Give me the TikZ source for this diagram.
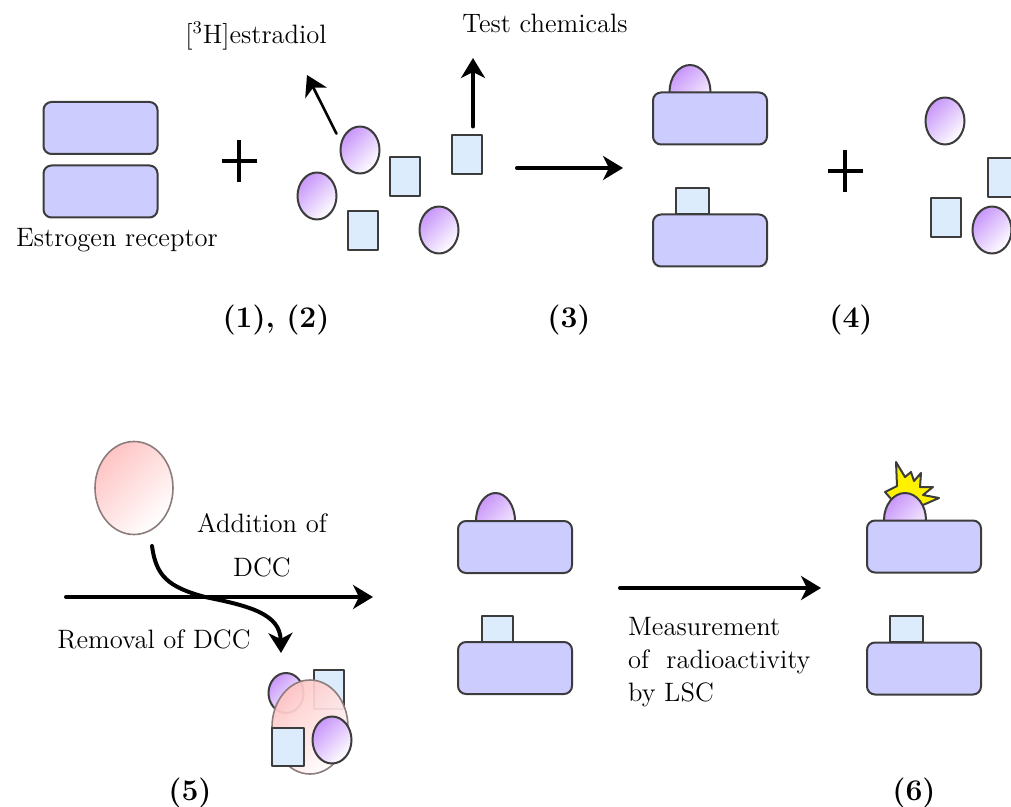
\documentclass[tikz,border=0pt]{standalone}
\usetikzlibrary{arrows.meta,shapes.geometric}
\definecolor{recep}{RGB}{204,204,255}
\definecolor{edge}{RGB}{60,60,60}
\definecolor{chemblue}{RGB}{220,236,252}
\definecolor{lig}{RGB}{200,150,250}
\definecolor{dcc}{RGB}{255,196,196}
\definecolor{dccedge}{RGB}{140,124,124}
\begin{document}
\begin{tikzpicture}[x=0.5pt,y=-0.5pt,>={Stealth[length=10pt,width=12pt,inset=3pt]},
    line join=round, line cap=round, font=\fontsize{13.3}{16}\selectfont,
    receptor/.style={draw=edge, line width=1pt, fill=recep, rounded corners=4pt,
        minimum width=57pt, minimum height=26pt, inner sep=0pt},
    ligand/.style={ellipse, draw=edge, line width=1pt, top color=lig, bottom color=white,
        shading angle=45, minimum width=19.5pt, minimum height=23.5pt, inner sep=0pt},
    halflig/.style={ligand, minimum width=20.5pt, minimum height=27pt},
    chembox/.style={draw=edge, line width=1pt, fill=chemblue, minimum width=15pt,
        minimum height=19.5pt, inner sep=0pt},
    dccball/.style={ellipse, draw=dccedge, line width=0.8pt, top color=dcc, bottom color=white,
        shading angle=45, minimum width=39pt, minimum height=46.5pt, inner sep=0pt},
    thickline/.style={line width=2pt},
    plusline/.style={line width=2.4pt, line cap=butt},
    numlab/.style={font=\fontsize{15}{17}\selectfont\bfseries}]
    \useasboundingbox (0,0) rectangle (1011,807);
    \clip (0,0) rectangle (1011,807);
    % (1), (2): receptor, [3H]estradiol and test chemicals
    \node[receptor] (ra) at (100.5,128) {};
    \node[receptor] (rb) at (100.5,191.5) {};
    \node (er) at (117,240) {Estrogen receptor};
    \coordinate (pa) at (239,161);
    \draw[plusline] (pa) ++(-17.5,0) -- ++(35,0) (pa) ++(0,-21) -- ++(0,42);
    \node[ligand] (la) at (360,150) {};
    \node[ligand] (lb) at (317,196) {};
    \node[ligand] (lc) at (439,230) {};
    \node[chembox] (sa) at (405,177) {};
    \node[chembox] (sb) at (363,231) {};
    \node[chembox] (sc) at (467,155) {};
    \node (est) at (256,36) {[$^3$H]estradiol};
    \node (tc) at (545,23) {Test chemicals};
    \coordinate (estTip) at (307,75);
    \coordinate (tcTip) at (473,58);
    \draw[->, line width=1.3pt] ([shift={(-9,1)}]la.north west) -- (estTip);
    \draw[->, thickline] ([shift={(6,-8)}]sc.north) -- (tcTip);
    % (3): bound receptors
    \coordinate (a3s) at (517,168);
    \coordinate (a3e) at (623,168);
    \draw[->, thickline] (a3s) -- (a3e);
    \node[halflig] (h3) at (690,92) {};
    \node[receptor] (r3a) at (710,118.5) {};
    \node[chembox, minimum width=16.5pt, minimum height=13pt] (q3) at (692.5,201) {};
    \node[receptor] (r3b) at (710,240.5) {};
    % (4): free ligands
    \coordinate (pb) at (845,171);
    \draw[plusline] (pb) ++(-17.5,0) -- ++(35,0) (pb) ++(0,-21) -- ++(0,42);
    \node[ligand] (ld) at (945,121) {};
    \node[ligand] (le) at (992,230) {};
    \node[chembox] (sd) at (945.5,217.5) {};
    \node[chembox] (se) at (1003,177.5) {};
    \node[numlab] (n12) at (276,320) {(1), (2)};
    \node[numlab] (n3) at (569,320) {(3)};
    \node[numlab] (n4) at (851,320) {(4)};
    % (5): DCC in and out
    \node[dccball] (dc) at (134,488) {};
    \coordinate (a5s) at (66,597);
    \coordinate (a5e) at (373,597);
    \draw[->, thickline] (a5s) -- (a5e);
    \coordinate (rmS) at (152,546);
    \coordinate (rmE) at (281,653);
    \draw[->, thickline] (rmS) .. controls (156,576) and (168,587) .. (205,597)
        .. controls (250,606) and (280,614) .. (rmE);
    \node (add) at (262,523) {Addition of};
    \node (dcl) at (262,567) {DCC};
    \node (rem) at (154,639) {Removal of DCC};
    \node[ligand, minimum width=17.5pt, minimum height=20pt] (ag1) at (286,693) {};
    \node[chembox] (ag2) at (329,689.5) {};
    \node[dccball, minimum width=38pt, minimum height=47pt, fill opacity=.93] (ag) at (310,727) {};
    \node[chembox, minimum width=16pt, minimum height=19pt] (ag3) at (288,747) {};
    \node[ligand] (ag4) at (332,740) {};
    \node[halflig, minimum width=19.5pt, minimum height=28pt] (h5) at (495.5,521) {};
    \node[receptor] (r5a) at (515,547) {};
    \node[chembox, minimum width=15.5pt, minimum height=13pt] (q5) at (497.5,629) {};
    \node[receptor] (r5b) at (515,668) {};
    % (6): counting
    \coordinate (a6s) at (620,588);
    \coordinate (a6e) at (821,588);
    \draw[->, thickline] (a6s) -- (a6e);
    \node[anchor=north west, align=left, font=\fontsize{13.3}{16.5}\selectfont] (lsc) at (621,610)
        {Measurement\\of\ \ radioactivity\\by LSC};
    \draw[draw=edge, line width=1pt, fill=yellow] (885,492) -- (897,486) -- (896,462) -- (905,477)
        -- (911,472) -- (914,481) -- (921,473) -- (920,487) -- (933,487) -- (923,495)
        -- (939,498) -- (923,505) -- (905,515) -- cycle;
    \node[halflig, minimum width=21pt] (h6) at (905,520) {};
    \node[receptor] (r6a) at (924,546.5) {};
    \node[chembox, minimum width=16.5pt, minimum height=13pt] (q6) at (906.5,629) {};
    \node[receptor] (r6b) at (924,668.5) {};
    \node[numlab] (n5) at (190,793) {(5)};
    \node[numlab] (n6) at (914,793) {(6)};
\end{tikzpicture}
\end{document}
